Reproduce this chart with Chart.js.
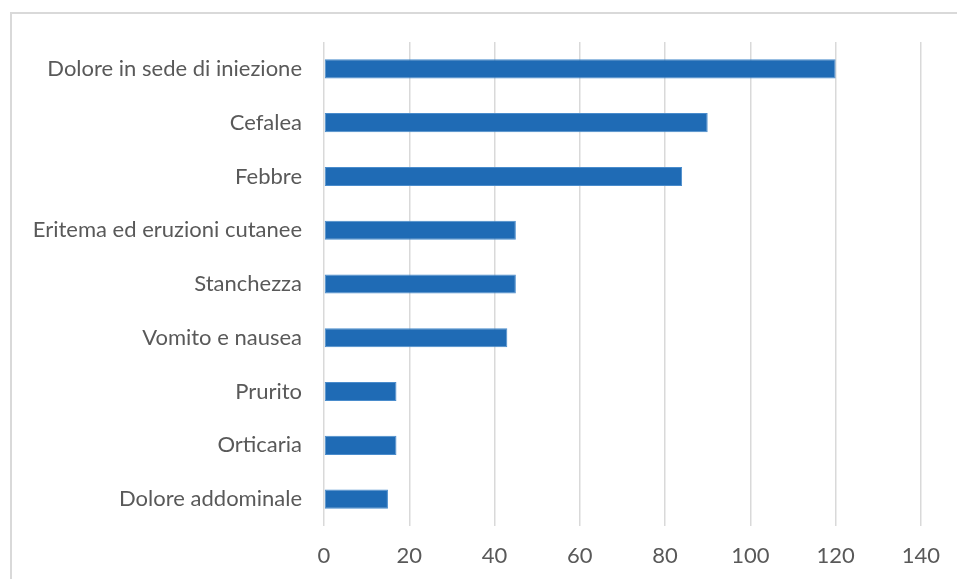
<!DOCTYPE html>
<html>
<head>
<meta charset="utf-8">
<script src="https://cdn.jsdelivr.net/npm/chart.js@4"></script>
<style>
  html, body { margin: 0; padding: 0; background: #fff; }
  #wrap { position: relative; width: 957px; height: 579px; overflow: hidden; }
  #frame { position: absolute; left: 10px; top: 12px; width: 980px; height: 600px;
           border-left: 2px solid #d9d9d9; border-top: 2px solid #d9d9d9; box-sizing: border-box; }
  #chart { position: absolute; left: 0; top: 0; }
</style>
</head>
<body>
<div id="wrap">
  <div id="frame"></div>
  <canvas id="chart" width="957" height="579"></canvas>
</div>
<script>
// reazioni avverse segnalate, dall'alto verso il basso
const CATEGORIES = [
  "Dolore in sede di iniezione",
  "Cefalea",
  "Febbre",
  "Eritema ed eruzioni cutanee",
  "Stanchezza",
  "Vomito e nausea",
  "Prurito",
  "Orticaria",
  "Dolore addominale",
];
const VALUES = [120, 90, 84, 45, 45, 43, 17, 17, 15];
const X_MIN = 0;
const X_MAX = 140;
const X_STEP = 20;

const BAR_COLOR = "#1f6bb5";
const GRID_COLOR = "#d9d9d9";
const TEXT_COLOR = "#595959";
const FONT = { family: "Lato, 'Open Sans', sans-serif", size: 22 };

new Chart(document.getElementById("chart"), {
  type: "bar",
  data: {
    labels: CATEGORIES,
    datasets: [{
      data: VALUES,
      backgroundColor: BAR_COLOR,
      borderColor: "#4a8ccc",
      borderWidth: 1,
      borderSkipped: false,
      categoryPercentage: 1,
      barPercentage: 0.355,
    }],
  },
  options: {
    indexAxis: "y",
    responsive: false,
    animation: false,
    layout: { padding: { left: 0, top: 42, right: 35, bottom: 0 } },
    plugins: { legend: { display: false }, tooltip: { enabled: false } },
    scales: {
      x: {
        min: X_MIN,
        max: X_MAX,
        ticks: { stepSize: X_STEP, color: TEXT_COLOR, font: FONT, padding: 17 },
        grid: { color: GRID_COLOR, lineWidth: 1.5, drawTicks: false },
        border: { display: false },
        afterFit: (s) => { s.height = 53; },
      },
      y: {
        ticks: { color: TEXT_COLOR, font: FONT, padding: 22 },
        grid: { display: false, drawTicks: false },
        border: { display: false },
        afterFit: (s) => { s.width = 324; },
      },
    },
  },
});
</script>
</body>
</html>
